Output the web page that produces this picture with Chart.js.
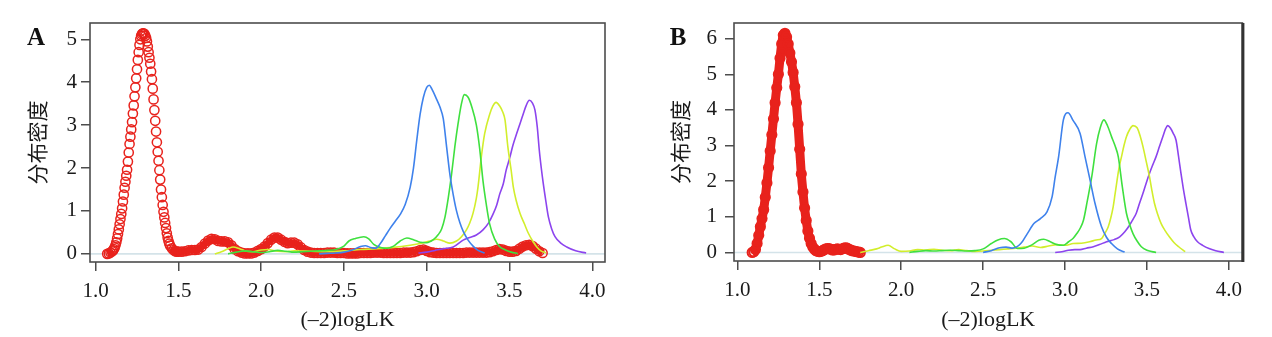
<!DOCTYPE html>
<html>
<head>
<meta charset="utf-8">
<script src="https://cdn.jsdelivr.net/npm/chart.js@4.4.1/dist/chart.umd.min.js"></script>
<style>
  html, body { margin: 0; padding: 0; background: #fff; }
  body { width: 1272px; height: 337px; position: relative; overflow: hidden; }
  .panel { position: absolute; top: 0; height: 337px; }
  #panelA { left: 0; width: 636px; }
  #panelB { left: 636px; width: 613px; }
</style>
</head>
<body>
<div class="panel" id="panelA"><canvas id="chartA" width="636" height="337"></canvas></div>
<div class="panel" id="panelB"><canvas id="chartB" width="613" height="337"></canvas></div>
<script>
// density curves of (-2)logLK, panel A and panel B

const xTicks = [1.0, 1.5, 2.0, 2.5, 3.0, 3.5, 4.0];
const yTicksA = [0, 1, 2, 3, 4, 5];
const yTicksB = [0, 1, 2, 3, 4, 5, 6];
const xTitle = '(–2)logLK';
const yTitle = '分布密度';

// ---- panel A ----
const redAx = [1.07, 1.08, 1.09,
  1.100, 1.105, 1.110, 1.115, 1.120, 1.125, 1.130, 1.135, 1.140, 1.145,
  1.150, 1.155, 1.160, 1.165, 1.170, 1.175, 1.180, 1.185, 1.190, 1.195,
  1.200, 1.205, 1.210, 1.215, 1.220, 1.225, 1.230, 1.235, 1.240, 1.245,
  1.250, 1.255, 1.260, 1.265, 1.270, 1.275, 1.280, 1.285, 1.290, 1.295,
  1.300, 1.305, 1.310, 1.315, 1.320, 1.325, 1.330, 1.335, 1.340, 1.345,
  1.350, 1.355, 1.360, 1.365, 1.370, 1.375, 1.380, 1.385, 1.390, 1.395,
  1.400, 1.405, 1.410, 1.415, 1.420, 1.425, 1.430, 1.435, 1.440, 1.445, 1.450,
  1.46, 1.47, 1.48, 1.49, 1.50,
  1.52, 1.54, 1.56, 1.58, 1.60, 1.62, 1.64, 1.66, 1.68, 1.70,
  1.72, 1.74, 1.76, 1.78, 1.80, 1.82, 1.84, 1.86, 1.88, 1.90,
  1.92, 1.94, 1.96, 1.98, 2.00, 2.02, 2.04, 2.06, 2.08, 2.10,
  2.12, 2.14, 2.16, 2.18, 2.20, 2.22, 2.24, 2.26, 2.28, 2.30,
  2.32, 2.34, 2.36, 2.38, 2.40, 2.42, 2.44, 2.46, 2.48, 2.50,
  2.52, 2.54, 2.56, 2.58, 2.60, 2.62, 2.64, 2.66, 2.68, 2.70,
  2.72, 2.74, 2.76, 2.78, 2.80, 2.82, 2.84, 2.86, 2.88, 2.90,
  2.92, 2.94, 2.96, 2.98, 3.00, 3.02, 3.04, 3.06, 3.08, 3.10,
  3.12, 3.14, 3.16, 3.18, 3.20, 3.22, 3.24, 3.26, 3.28, 3.30,
  3.32, 3.34, 3.36, 3.38, 3.40, 3.42, 3.44, 3.46, 3.48, 3.50,
  3.52, 3.54, 3.56, 3.58, 3.60, 3.62, 3.64, 3.66, 3.68, 3.70];
const redAy = [0.00, 0.01, 0.03,
  0.06, 0.08, 0.11, 0.15, 0.20, 0.27, 0.36, 0.46, 0.57, 0.69,
  0.81, 0.93, 1.06, 1.22, 1.38, 1.54, 1.68, 1.82, 1.96, 2.15,
  2.36, 2.56, 2.73, 2.90, 3.07, 3.27, 3.46, 3.67, 3.88, 4.09,
  4.30, 4.52, 4.70, 4.87, 5.00, 5.08, 5.12, 5.14, 5.14, 5.12,
  5.08, 5.03, 4.95, 4.83, 4.70, 4.57, 4.43, 4.25, 4.07, 3.85,
  3.60, 3.35, 3.10, 2.85, 2.60, 2.38, 2.17, 1.95, 1.73, 1.50,
  1.32, 1.14, 0.98, 0.85, 0.72, 0.60, 0.48, 0.38, 0.30, 0.24, 0.19,
  0.13, 0.09, 0.06, 0.05, 0.05,
  0.05, 0.06, 0.08, 0.09, 0.09, 0.10, 0.16, 0.24, 0.31, 0.35,
  0.34, 0.30, 0.29, 0.29, 0.27, 0.20, 0.11, 0.06, 0.03, 0.01,
  0.01, 0.01, 0.03, 0.07, 0.11, 0.17, 0.25, 0.33, 0.38, 0.38,
  0.33, 0.28, 0.25, 0.26, 0.26, 0.22, 0.15, 0.09, 0.05, 0.03,
  0.02, 0.02, 0.02, 0.02, 0.03, 0.03, 0.03, 0.02, 0.02, 0.02,
  0.01, 0.01, 0.01, 0.01, 0.02, 0.02, 0.02, 0.02, 0.03, 0.03,
  0.03, 0.02, 0.02, 0.02, 0.02, 0.02, 0.02, 0.03, 0.03, 0.03,
  0.04, 0.06, 0.09, 0.10, 0.07, 0.04, 0.03, 0.02, 0.02, 0.02,
  0.02, 0.02, 0.02, 0.02, 0.02, 0.02, 0.03, 0.03, 0.03, 0.03,
  0.03, 0.03, 0.03, 0.04, 0.06, 0.09, 0.11, 0.10, 0.07, 0.05,
  0.05, 0.07, 0.12, 0.17, 0.20, 0.21, 0.18, 0.12, 0.06, 0.02];

const blueAx = [2.35, 2.40, 2.45, 2.50, 2.55, 2.60, 2.63, 2.66, 2.69, 2.72, 2.75, 2.78, 2.81, 2.84, 2.87, 2.90,
  2.92, 2.94, 2.96, 2.98, 3.00, 3.016, 3.03, 3.06, 3.08, 3.10, 3.12, 3.14, 3.16, 3.18, 3.20, 3.22, 3.25, 3.28, 3.31, 3.35];
const blueAy = [0.00, 0.01, 0.02, 0.04, 0.09, 0.17, 0.19, 0.15, 0.13, 0.24, 0.42, 0.60, 0.76, 0.92, 1.15, 1.55,
  2.00, 2.65, 3.25, 3.65, 3.88, 3.93, 3.85, 3.60, 3.42, 3.15, 2.50, 1.85, 1.38, 1.00, 0.73, 0.53, 0.32, 0.18, 0.08, 0.02];

const greenAx = [1.80, 1.85, 1.90, 1.95, 2.00, 2.05, 2.10, 2.15, 2.20, 2.25, 2.30, 2.35, 2.40, 2.45, 2.50, 2.53, 2.57,
  2.62, 2.65, 2.68, 2.72, 2.76, 2.80, 2.84, 2.88, 2.92, 2.96, 3.00, 3.04, 3.07, 3.09, 3.11, 3.13, 3.15, 3.17, 3.19,
  3.21, 3.227, 3.25, 3.272, 3.30, 3.32, 3.34, 3.36, 3.38, 3.41, 3.44, 3.47, 3.51, 3.55];
const greenAy = [0.00, 0.04, 0.07, 0.05, 0.03, 0.05, 0.08, 0.06, 0.04, 0.05, 0.06, 0.07, 0.08, 0.10, 0.18, 0.30, 0.36,
  0.40, 0.35, 0.22, 0.15, 0.13, 0.18, 0.30, 0.37, 0.33, 0.27, 0.26, 0.33, 0.45, 0.58, 0.85, 1.30, 1.85, 2.50, 3.05,
  3.50, 3.71, 3.65, 3.43, 3.00, 2.45, 1.70, 1.15, 0.70, 0.35, 0.17, 0.10, 0.04, 0.01];

const yellowAx = [1.72, 1.76, 1.80, 1.83, 1.87, 1.91, 1.95, 2.00, 2.04, 2.10, 2.15, 2.20, 2.30, 2.40, 2.50, 2.60, 2.70,
  2.80, 2.90, 2.96, 3.02, 3.06, 3.10, 3.14, 3.18, 3.21, 3.24, 3.26, 3.28, 3.30, 3.31, 3.33, 3.35, 3.38, 3.40, 3.419,
  3.44, 3.46, 3.473, 3.49, 3.51, 3.523, 3.54, 3.564, 3.59, 3.614, 3.64, 3.665, 3.69, 3.72];
const yellowAy = [0.00, 0.05, 0.12, 0.16, 0.12, 0.06, 0.05, 0.09, 0.10, 0.06, 0.05, 0.07, 0.06, 0.05, 0.07, 0.10, 0.12,
  0.15, 0.20, 0.24, 0.30, 0.34, 0.30, 0.25, 0.30, 0.40, 0.56, 0.72, 0.95, 1.30, 1.56, 2.26, 2.80, 3.25, 3.45, 3.53,
  3.45, 3.30, 3.12, 2.50, 1.95, 1.56, 1.25, 0.94, 0.70, 0.48, 0.30, 0.16, 0.07, 0.02];

const purpleAx = [2.95, 3.00, 3.05, 3.10, 3.16, 3.22, 3.26, 3.30, 3.34, 3.372, 3.40, 3.423, 3.44, 3.463, 3.48, 3.503,
  3.52, 3.544, 3.565, 3.584, 3.60, 3.62, 3.638, 3.654, 3.668, 3.68, 3.692, 3.704, 3.72, 3.735, 3.755, 3.775, 3.81,
  3.846, 3.90, 3.963];
const purpleAy = [0.02, 0.04, 0.08, 0.12, 0.16, 0.32, 0.38, 0.44, 0.56, 0.71, 0.92, 1.14, 1.38, 1.64, 1.95, 2.26,
  2.52, 2.81, 3.05, 3.27, 3.45, 3.58, 3.52, 3.35, 2.95, 2.42, 2.00, 1.64, 1.22, 0.86, 0.58, 0.40, 0.25,
  0.16, 0.07, 0.02];

// ---- panel B ----
const redBx = [1.09, 1.10, 1.11, 1.12, 1.13, 1.14, 1.15, 1.16, 1.17, 1.18, 1.19,
  1.20, 1.21, 1.22, 1.23, 1.24, 1.25, 1.26, 1.27, 1.28, 1.29,
  1.30, 1.31, 1.32, 1.33, 1.34, 1.35, 1.36, 1.37, 1.38, 1.39,
  1.40, 1.41, 1.42, 1.43, 1.44, 1.45, 1.46, 1.47, 1.48, 1.49,
  1.50, 1.51, 1.52, 1.53, 1.54, 1.55, 1.56, 1.57, 1.58, 1.59,
  1.60, 1.61, 1.62, 1.63, 1.64, 1.65, 1.66, 1.67, 1.68, 1.69,
  1.70, 1.71, 1.72, 1.73, 1.74, 1.75];
const redBy = [0.00, 0.02, 0.08, 0.25, 0.48, 0.72, 0.95, 1.20, 1.55, 1.95, 2.38,
  2.85, 3.30, 3.75, 4.20, 4.62, 5.00, 5.45, 5.85, 6.10, 6.15,
  6.05, 5.85, 5.60, 5.35, 5.05, 4.65, 4.20, 3.60, 2.90, 2.20,
  1.70, 1.25, 0.90, 0.60, 0.40, 0.25, 0.15, 0.09, 0.05, 0.03,
  0.02, 0.03, 0.05, 0.08, 0.10, 0.11, 0.11, 0.09, 0.07, 0.07,
  0.09, 0.10, 0.09, 0.08, 0.10, 0.12, 0.13, 0.12, 0.09, 0.07,
  0.05, 0.04, 0.03, 0.02, 0.01, 0.00];

const blueBx = [2.50, 2.55, 2.60, 2.64, 2.68, 2.73, 2.77, 2.81, 2.85, 2.89, 2.921, 2.94, 2.961, 2.99, 3.018, 3.05,
  3.092, 3.122, 3.153, 3.183, 3.223, 3.254, 3.284, 3.32, 3.364];
const blueBy = [0.00, 0.05, 0.13, 0.15, 0.12, 0.25, 0.53, 0.81, 0.95, 1.14, 1.56, 2.12, 2.69, 3.72, 3.92, 3.70,
  3.34, 2.69, 2.03, 1.38, 0.72, 0.42, 0.25, 0.10, 0.01];

const greenBx = [2.05, 2.10, 2.15, 2.20, 2.25, 2.30, 2.35, 2.40, 2.45, 2.50, 2.55, 2.59, 2.63, 2.67, 2.71, 2.75, 2.80,
  2.84, 2.87, 2.91, 2.95, 2.99, 3.022, 3.05, 3.072, 3.095, 3.113, 3.137, 3.163, 3.193, 3.215, 3.237, 3.26, 3.284,
  3.305, 3.325, 3.35, 3.375, 3.395, 3.415, 3.44, 3.466, 3.50, 3.556];
const greenBy = [0.00, 0.03, 0.05, 0.04, 0.05, 0.06, 0.05, 0.04, 0.05, 0.10, 0.25, 0.35, 0.39, 0.30, 0.11, 0.12, 0.22,
  0.34, 0.37, 0.30, 0.22, 0.20, 0.30, 0.40, 0.53, 0.70, 0.91, 1.47, 2.12, 3.06, 3.50, 3.72, 3.55, 3.25,
  3.00, 2.69, 1.84, 1.10, 0.78, 0.53, 0.32, 0.16, 0.06, 0.00];

const yellowBx = [1.75, 1.80, 1.85, 1.88, 1.92, 1.96, 2.00, 2.05, 2.10, 2.15, 2.20, 2.25, 2.30, 2.35, 2.40, 2.45, 2.50,
  2.55, 2.60, 2.65, 2.70, 2.75, 2.80, 2.85, 2.90, 2.95, 3.00, 3.05, 3.10, 3.15, 3.19, 3.223, 3.245, 3.264, 3.28,
  3.294, 3.305, 3.318, 3.33, 3.345, 3.36, 3.375, 3.395, 3.415, 3.44, 3.46, 3.476, 3.496, 3.516, 3.53, 3.546, 3.565,
  3.587, 3.61, 3.637, 3.665, 3.694, 3.734];
const yellowBy = [0.00, 0.05, 0.10, 0.15, 0.20, 0.10, 0.03, 0.04, 0.08, 0.07, 0.09, 0.06, 0.05, 0.08, 0.05, 0.03, 0.04,
  0.06, 0.08, 0.10, 0.12, 0.15, 0.18, 0.14, 0.18, 0.22, 0.20, 0.25, 0.26, 0.30, 0.35, 0.39, 0.55, 0.72, 0.98,
  1.28, 1.62, 2.03, 2.38, 2.69, 3.00, 3.25, 3.45, 3.56, 3.50, 3.25, 2.97, 2.55, 2.12, 1.75, 1.38, 1.08,
  0.81, 0.62, 0.44, 0.28, 0.16, 0.02];

const purpleBx = [2.94, 2.98, 3.02, 3.06, 3.092, 3.13, 3.173, 3.21, 3.254, 3.30, 3.334, 3.365, 3.395, 3.415, 3.435,
  3.455, 3.476, 3.496, 3.516, 3.535, 3.556, 3.577, 3.597, 3.615, 3.627, 3.645, 3.66, 3.678, 3.693, 3.708, 3.722,
  3.738, 3.753, 3.768, 3.785, 3.809, 3.84, 3.879, 3.92, 3.97];
const purpleBy = [0.00, 0.02, 0.06, 0.08, 0.08, 0.12, 0.16, 0.22, 0.30, 0.36, 0.44, 0.58, 0.77, 0.93, 1.10,
  1.38, 1.66, 1.95, 2.22, 2.45, 2.69, 2.98, 3.25, 3.48, 3.56, 3.48, 3.35, 3.15, 2.70, 2.22, 1.80,
  1.38, 1.00, 0.63, 0.45, 0.30, 0.20, 0.11, 0.05, 0.00];

const RED = '#e8221c';
const BLUE = '#3f82ec';
const GREEN = '#3fe03f';
const YELLOW = '#d2ee2c';
const PURPLE = '#8c44ee';

const tickFont = { family: 'Liberation Serif', size: 21 };
const titleFont = { family: 'Liberation Serif', size: 22 };
const cjkFont = { family: 'Noto Sans CJK SC', size: 21 };

function pts(xs, ys) {
  return xs.map((x, i) => ({ x: x, y: ys[i] }));
}

function curve(xs, ys, color) {
  return {
    data: pts(xs, ys),
    showLine: true,
    borderColor: color,
    borderWidth: 1.6,
    pointRadius: 0,
    cubicInterpolationMode: 'monotone',
    fill: false
  };
}

// zero line under the data, frame and panel letter over it
const framePlugin = {
  id: 'frame',
  beforeDatasetsDraw(chart) {
    const { ctx, chartArea: a } = chart;
    const y0 = chart.scales.y.getPixelForValue(0);
    ctx.save();
    ctx.strokeStyle = '#d4e3e9';
    ctx.lineWidth = 1.6;
    ctx.beginPath();
    ctx.moveTo(a.left, y0);
    ctx.lineTo(a.right, y0);
    ctx.stroke();
    ctx.restore();
  },
  afterDatasetsDraw(chart, args, opts) {
    const { ctx, chartArea: a } = chart;
    ctx.save();
    ctx.strokeStyle = '#4d4d4d';
    ctx.lineWidth = 1.6;
    ctx.strokeRect(a.left, a.top, a.right - a.left, a.bottom - a.top);
    if (opts.heavyRight) {
      ctx.lineWidth = 3;
      ctx.strokeStyle = '#333';
      ctx.beginPath();
      ctx.moveTo(a.right + 0.5, a.top);
      ctx.lineTo(a.right + 0.5, a.bottom + 1);
      ctx.stroke();
    }
    ctx.fillStyle = '#111';
    ctx.font = 'bold 25px "Liberation Serif"';
    ctx.textAlign = 'center';
    ctx.textBaseline = 'middle';
    ctx.fillText(opts.letter, opts.lx, opts.ly);
    ctx.restore();
  }
};

function axes(cfg) {
  return {
    x: {
      type: 'linear',
      min: cfg.xMin,
      max: cfg.xMax,
      afterBuildTicks: s => { s.ticks = xTicks.map(v => ({ value: v })); },
      afterFit: s => { s.height = cfg.xAxisH; s.paddingLeft = 0; s.paddingRight = 0; },
      ticks: { callback: v => v.toFixed(1), font: tickFont, color: '#1a1a1a', padding: 8, maxRotation: 0, autoSkip: false },
      grid: { drawOnChartArea: false, drawTicks: true, tickLength: 9, color: '#4d4d4d', lineWidth: 1.5 },
      border: { display: false },
      title: { display: true, text: xTitle, font: titleFont, color: '#1a1a1a', padding: { top: 0, bottom: 4 } }
    },
    y: {
      type: 'linear',
      min: cfg.yMin,
      max: cfg.yMax,
      afterBuildTicks: s => { s.ticks = cfg.yTicks.map(v => ({ value: v })); },
      afterFit: s => { s.width = cfg.yAxisW; s.paddingTop = 0; s.paddingBottom = 0; },
      ticks: { callback: v => String(v), font: tickFont, color: '#1a1a1a', padding: cfg.yPad, autoSkip: false },
      grid: { drawOnChartArea: false, drawTicks: true, tickLength: 9, color: '#4d4d4d', lineWidth: 1.5 },
      border: { display: false },
      title: { display: true, text: yTitle, font: cjkFont, color: '#1a1a1a', padding: { top: cfg.yTitlePad, bottom: 0 } }
    }
  };
}

function makeChart(id, datasets, cfg) {
  return new Chart(document.getElementById(id), {
    type: 'scatter',
    data: { datasets: datasets },
    options: {
      responsive: false,
      animation: false,
      layout: { padding: { top: 23, right: cfg.padRight, bottom: 0, left: 0 } },
      plugins: {
        legend: { display: false },
        tooltip: { enabled: false },
        frame: { letter: cfg.letter, lx: cfg.lx, ly: cfg.ly, heavyRight: cfg.heavyRight }
      },
      scales: axes(cfg)
    },
    plugins: [framePlugin]
  });
}

// red density drawn last in the list so it sits under the other curves;
// its flat tail is packed so tightly that the circles merge into a band
makeChart('chartA', [
  curve(blueAx, blueAy, BLUE),
  curve(greenAx, greenAy, GREEN),
  curve(yellowAx, yellowAy, YELLOW),
  curve(purpleAx, purpleAy, PURPLE),
  {
    data: pts(redAx, redAy),
    showLine: true,
    borderColor: RED,
    borderWidth: 7,
    segment: {
      borderColor: c => (c.p0.parsed.x >= 1.455 || c.p1.parsed.x <= 1.10) ? RED : 'rgba(0,0,0,0)'
    },
    pointStyle: 'circle',
    pointRadius: 4.6,
    pointBorderWidth: 1.5,
    pointBorderColor: RED,
    pointBackgroundColor: 'rgba(255,255,255,0)'
  }
], {
  xMin: 0.966, xMax: 4.077, yMin: -0.19, yMax: 5.38, yTicks: yTicksA,
  xAxisH: 75, yAxisW: 90, yPad: 4, yTitlePad: 24, padRight: 31,
  letter: 'A', lx: 36, ly: 39, heavyRight: false
});

makeChart('chartB', [
  curve(blueBx, blueBy, BLUE),
  curve(greenBx, greenBy, GREEN),
  curve(yellowBx, yellowBy, YELLOW),
  curve(purpleBx, purpleBy, PURPLE),
  {
    data: pts(redBx, redBy),
    showLine: true,
    borderColor: RED,
    borderWidth: 9,
    cubicInterpolationMode: 'monotone',
    pointStyle: 'circle',
    pointRadius: 4.6,
    pointBorderWidth: 2,
    pointBorderColor: RED,
    pointBackgroundColor: 'rgba(255,255,255,0)'
  }
], {
  xMin: 0.979, xMax: 4.083, yMin: -0.24, yMax: 6.44, yTicks: yTicksB,
  xAxisH: 76, yAxisW: 98, yPad: 8, yTitlePad: 31, padRight: 2,
  letter: 'B', lx: 42, ly: 39, heavyRight: true
});
</script>
</body>
</html>
